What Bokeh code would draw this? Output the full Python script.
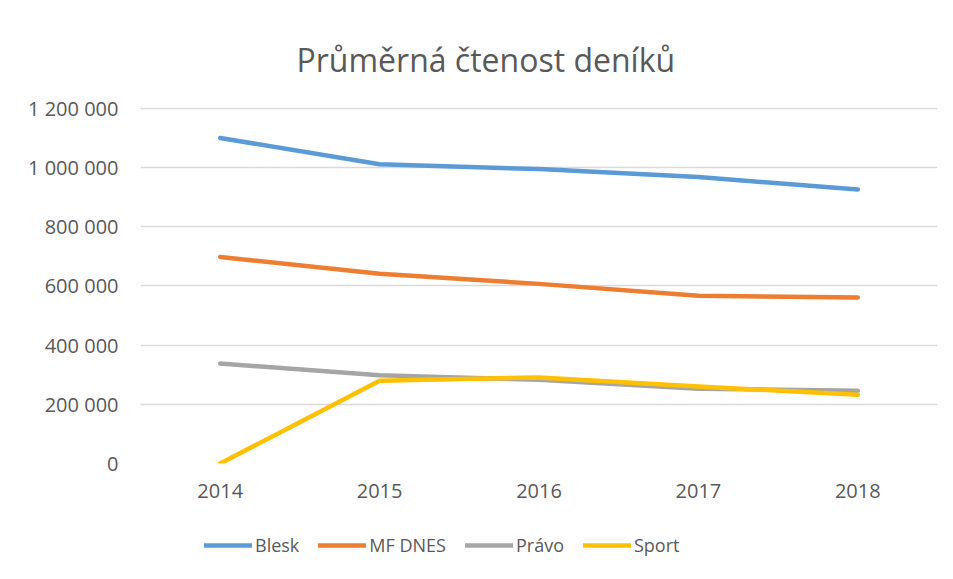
from bokeh.plotting import figure
from bokeh.layouts import column
from bokeh.models import (FactorRange, Range1d, FixedTicker, CustomJSTickFormatter,
                          Legend, LegendItem, Title)
from bokeh.embed import file_html
from bokeh.resources import INLINE

years = ["2014", "2015", "2016", "2017", "2018"]
blesk = [1100000, 1011000, 995000, 968000, 926000]
mf_dnes = [698000, 641000, 607000, 567000, 561000]
pravo = [338000, 298000, 283000, 253000, 246000]
sport = [0, 280000, 291000, 260000, 232000]
series_names = ["Blesk", "MF DNES", "Právo", "Sport"]
y_ticks = [0, 200000, 400000, 600000, 800000, 1000000, 1200000]
title_text = "Průměrná čtenost deníků"

colors = ["#5B9BD5", "#ED7D31", "#A5A5A5", "#FFC000"]
FONT = "Open Sans"
GREY = "#595959"
LW = 4.5

p = figure(width=945, height=523, output_backend="svg", toolbar_location=None,
           x_range=FactorRange(*years, range_padding=0),
           y_range=Range1d(0, 1203000),
           min_border_left=140, min_border_right=8, min_border_top=107,
           min_border_bottom=60)

p.title = Title(text=title_text, align="left", offset=156, text_font=FONT,
                text_font_size="32px", text_font_style="normal", text_color=GREY,
                standoff=54)

p.outline_line_color = None
p.xgrid.grid_line_color = None
p.ygrid.grid_line_color = "#D9D9D9"
p.ygrid.grid_line_width = 1.3

p.yaxis.ticker = FixedTicker(ticks=y_ticks)
p.yaxis.formatter = CustomJSTickFormatter(code="""
return Math.round(tick).toString().replace(/\\B(?=(\\d{3})+(?!\\d))/g, " ");
""")
for ax in (p.xaxis, p.yaxis):
    ax.axis_line_color = None
    ax.major_tick_line_color = None
    ax.minor_tick_line_color = None
    ax.major_label_text_font = FONT
    ax.major_label_text_font_size = "20px"
    ax.major_label_text_color = GREY
p.yaxis.major_label_standoff = 16
p.xaxis.major_label_standoff = 14

series = [blesk, mf_dnes, pravo, sport]
for vals, c in zip(series, colors):
    p.line(years, vals, line_color=c, line_width=LW, line_cap="round",
           line_join="round")

# legend strip below the chart (its own lines lie outside its visible range)
lg = figure(width=945, height=48, output_backend="svg", toolbar_location=None,
            x_range=FactorRange(*years), y_range=Range1d(-2, -1), min_border=0)
lg.axis.visible = False
lg.grid.visible = False
lg.outline_line_color = None
items = []
for name, vals, c in zip(series_names, series, colors):
    r = lg.line(years, vals, line_color=c, line_width=LW, line_cap="round")
    items.append(LegendItem(label=name, renderers=[r]))
legend = Legend(items=items, orientation="horizontal", location=(64, 14),
                label_text_font=FONT, label_text_font_size="18px",
                label_text_color=GREY, glyph_width=48, glyph_height=20,
                label_height=20, label_standoff=3, spacing=19,
                border_line_color=None, background_fill_alpha=0,
                margin=0, padding=0)
lg.add_layout(legend, "center")

layout = column(p, lg, spacing=0)
open("out.html", "w").write(file_html(layout, INLINE))
